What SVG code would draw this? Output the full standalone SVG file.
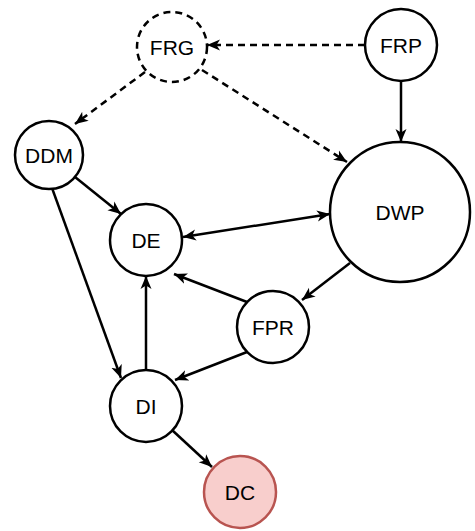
<svg xmlns="http://www.w3.org/2000/svg" width="475" height="531" viewBox="0 0 475 531">
<style>
.n circle{fill:#ffffff;stroke:#000000;stroke-width:2.5}
.n text{font-family:"Liberation Sans",Arial,Helvetica,sans-serif;font-size:21px;text-anchor:middle;fill:#000000}
.e line{stroke:#000000;stroke-width:2.5;fill:none}
.d{stroke-dasharray:7 5}
</style>
<defs>
<marker id="arr" markerUnits="userSpaceOnUse" markerWidth="14" markerHeight="12" viewBox="0 0 14 12" refX="13" refY="6" orient="auto-start-reverse">
<path d="M0,0.5 L13,6 L0,11.5 L3.5,6 Z" fill="#000000"/>
</marker>
</defs>
<rect width="475" height="531" fill="#ffffff"/>
<g class="e" id="connectors">
<line class="d" x1="365" y1="45" x2="207" y2="45" marker-end="url(#arr)"/>
<line x1="401" y1="81" x2="401" y2="142" marker-end="url(#arr)"/>
<line class="d" x1="145" y1="72" x2="75" y2="124" marker-end="url(#arr)"/>
<line class="d" x1="202" y1="70" x2="347" y2="162" marker-end="url(#arr)"/>
<line x1="75" y1="177" x2="121" y2="214" marker-end="url(#arr)"/>
<line x1="52" y1="188" x2="121" y2="378" marker-end="url(#arr)"/>
<line x1="183" y1="237" x2="330" y2="214" marker-start="url(#arr)" marker-end="url(#arr)"/>
<line x1="350" y1="263" x2="302" y2="300" marker-end="url(#arr)"/>
<line x1="247" y1="302" x2="174" y2="274" marker-end="url(#arr)"/>
<line x1="247" y1="352" x2="175" y2="380" marker-end="url(#arr)"/>
<line x1="146" y1="370" x2="146" y2="276" marker-end="url(#arr)"/>
<line x1="172" y1="430" x2="212" y2="467" marker-end="url(#arr)"/>
</g>
<g class="n" id="FRG"><circle cx="172" cy="47" r="35" stroke-dasharray="7 5"/><text x="172" y="54.5">FRG</text></g>
<g class="n" id="FRP"><circle cx="401" cy="45" r="36"/><text x="401" y="52.5">FRP</text></g>
<g class="n" id="DDM"><circle cx="49" cy="155" r="34"/><text x="49" y="162.5">DDM</text></g>
<g class="n" id="DWP"><circle cx="400" cy="212" r="70"/><text x="400" y="219.5">DWP</text></g>
<g class="n" id="DE"><circle cx="146" cy="240" r="36"/><text x="146" y="247.5">DE</text></g>
<g class="n" id="FPR"><circle cx="273" cy="327" r="36"/><text x="273" y="334.5">FPR</text></g>
<g class="n" id="DI"><circle cx="146" cy="406" r="36"/><text x="146" y="413.5">DI</text></g>
<g class="n" id="DC"><circle cx="240" cy="492" r="36" style="fill:#f8cecc;stroke:#b85450"/><text x="240" y="499.5">DC</text></g>
</svg>
